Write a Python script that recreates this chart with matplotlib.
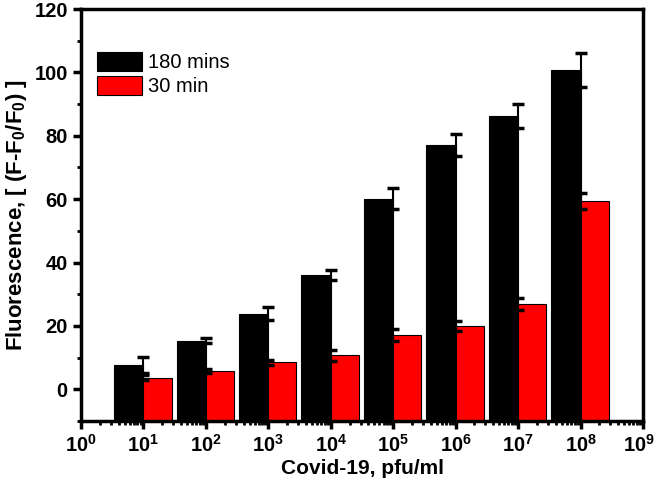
import numpy as np
import matplotlib.pyplot as plt
import matplotlib.transforms as mtransforms
from matplotlib.ticker import LogLocator, MultipleLocator, FixedLocator

plt.rcParams['font.family'] = ['Liberation Sans', 'DejaVu Sans']
plt.rcParams['mathtext.fontset'] = 'custom'
plt.rcParams['mathtext.bf'] = 'Liberation Sans:bold'
plt.rcParams['mathtext.rm'] = 'Liberation Sans'

# konsentrasi virus (eksponen 10^n)
exponents = [1, 2, 3, 4, 5, 6, 7, 8]
val_180 = [7.6, 15.3, 23.9, 36.0, 60.2, 77.0, 86.2, 100.7]
err_180 = [2.5, 0.8, 2.0, 1.6, 3.3, 3.5, 3.9, 5.3]
val_30 = [3.7, 5.7, 8.5, 10.7, 17.0, 20.0, 26.8, 59.4]
err_30 = [0.8, 0.6, 0.9, 1.7, 1.9, 1.5, 1.9, 2.4]

fig = plt.figure(figsize=(6.55, 4.84), dpi=100)
ax = fig.add_axes([0.1237, 0.1302, 0.8580, 0.8512])

base = -10  # batang digambar dari sumbu bawah
x = 10.0 ** np.array(exponents)
w = 0.47  # lebar batang dalam dekade
left_180 = x * 10 ** (-w)
right_30 = x * 10 ** (w - 0.02)

ax.bar(left_180, np.array(val_180) - base, bottom=base, width=x - left_180,
       align='edge', color='black', edgecolor='black', linewidth=0.8,
       label='180 mins', zorder=2)
ax.bar(x, np.array(val_30) - base, bottom=base, width=right_30 - x,
       align='edge', color='#ff0000', edgecolor='black', linewidth=0.8,
       label='30 min', zorder=2)

ax.errorbar(x, val_180, yerr=err_180, fmt='none', ecolor='black',
            elinewidth=1.5, capsize=4, capthick=2.5, zorder=3)
ax.errorbar(x, val_30, yerr=err_30, fmt='none', ecolor='black',
            elinewidth=1.5, capsize=4, capthick=2.5, zorder=3)

ax.set_xscale('log')
ax.set_xlim(1, 1e9)
ax.set_ylim(-10, 120)
ax.xaxis.set_major_locator(FixedLocator(10.0 ** np.arange(0, 10)))
ax.xaxis.set_minor_locator(LogLocator(base=10, subs=np.arange(2, 10), numticks=20))
ax.yaxis.set_major_locator(FixedLocator([0, 20, 40, 60, 80, 100, 120]))
ax.yaxis.set_minor_locator(MultipleLocator(10))

ax.tick_params(which='major', direction='out', length=6, width=2.5, labelsize=14.5)
ax.tick_params(which='minor', direction='out', length=3, width=2)
for lab in ax.get_xticklabels() + ax.get_yticklabels():
    lab.set_fontweight('bold')

# label 10^9 sedikit digeser ke kiri supaya tidak terpotong
last = ax.get_xticklabels()[-1]
last.set_transform(last.get_transform() +
                   mtransforms.ScaledTranslation(-4 / 100, 0, fig.dpi_scale_trans))

for s in ax.spines.values():
    s.set_linewidth(2.5)

ax.set_xlabel('Covid-19, pfu/ml', fontsize=15, fontweight='bold', labelpad=2)
ax.set_ylabel(r'Fluorescence, [ (F-F$_{\mathbf{0}}$/F$_{\mathbf{0}}$) ]',
              fontsize=16, fontweight='bold', labelpad=4)

ax.legend(loc='upper left', bbox_to_anchor=(0.004, 0.93), frameon=False,
          fontsize=14.5, handlelength=2.2, handleheight=1.05, handletextpad=0.3,
          labelspacing=0.2, borderpad=0.2)

plt.savefig('out.png', dpi=100)
